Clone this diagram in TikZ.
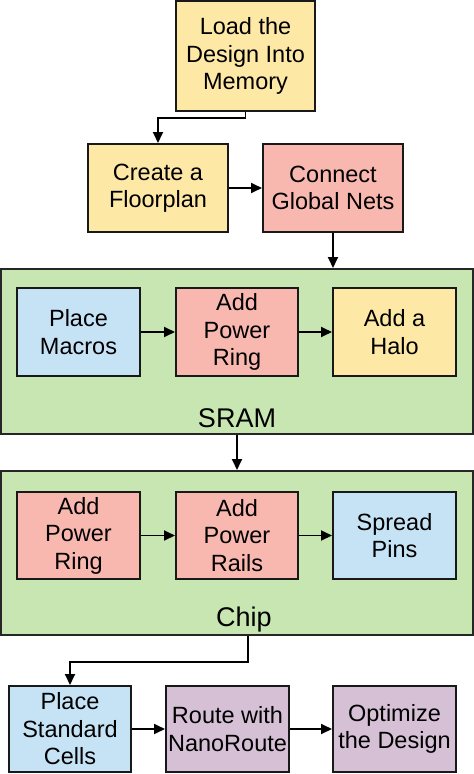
\documentclass[tikz,border=0pt]{standalone}
\usepackage{fontspec}
\setmainfont{Liberation Sans}
\usetikzlibrary{arrows.meta}
\definecolor{cyel}{HTML}{FDE8A6}
\definecolor{cred}{HTML}{F9B8AF}
\definecolor{cblue}{HTML}{C6E3F6}
\definecolor{cgreen}{HTML}{C8E6B1}
\definecolor{cpurp}{HTML}{D6C0D6}
\begin{document}
\begin{tikzpicture}[x=1pt,y=-1pt,
  box/.style={draw=black!90, line width=2pt, align=center, inner sep=0pt,
    font=\fontsize{23.5}{27.5}\selectfont},
  group/.style={draw=black!85, line width=2pt, fill=cgreen, inner sep=0pt},
  glabel/.style={font=\fontsize{27}{32}\selectfont, anchor=base, inner sep=0pt},
  arr/.style={-{Triangle[length=11pt,width=10pt]}, line width=1.8pt}]
\useasboundingbox (0,0) rectangle (474,774);

% top boxes
\node[box, fill=cyel, minimum width=139pt, minimum height=110pt] (load) at (245.5,56) {Load the\\Design Into\\Memory};
\node[box, fill=cyel, minimum width=140pt, minimum height=88pt] (create) at (158,188) {Create a\\Floorplan};
\node[box, fill=cred, minimum width=140pt, minimum height=88pt] (connect) at (333,188) {Connect\\Global Nets};

% SRAM group
\node[group, minimum width=472pt, minimum height=165pt] (sram) at (237,351.5) {};
\node[box, fill=cblue, minimum width=123pt, minimum height=88pt] (pm) at (78.5,332) {Place\\Macros};
\node[box, fill=cred, minimum width=122pt, minimum height=88pt] (apr1) at (237,332) {Add\\Power\\Ring};
\node[box, fill=cyel, minimum width=123pt, minimum height=88pt] (halo) at (394.5,332) {Add a\\Halo};
\node[glabel] (sramlbl) at (237,427) {SRAM};

% Chip group
\node[group, minimum width=472pt, minimum height=164pt] (chip) at (237,553) {};
\node[box, fill=cred, minimum width=123pt, minimum height=87pt] (apr2) at (78.5,535.5) {Add\\Power\\Ring};
\node[box, fill=cred, minimum width=122pt, minimum height=87pt] (rails) at (237,535.5) {Add\\Power\\Rails};
\node[box, fill=cblue, minimum width=123pt, minimum height=87pt] (pins) at (394.5,535.5) {Spread\\Pins};
\node[glabel] (chiplbl) at (244,626) {Chip};

% bottom boxes
\node[box, fill=cblue, minimum width=122pt, minimum height=86pt] (psc) at (70,729) {Place\\Standard\\Cells};
\node[box, fill=cpurp, minimum width=123pt, minimum height=86pt] (route) at (227.5,729) {Route with\\NanoRoute};
\node[box, fill=cpurp, minimum width=123pt, minimum height=86pt] (opt) at (394.5,729) {Optimize\\the Design};

% connectors
\draw[arr] (load.south) -- ++(0,6) -| (create.north);
\draw[arr] (create.east) -- (connect.west);
\draw[arr] (connect.south) -- (connect.south |- sram.north);
\draw[arr] (pm.east) -- (apr1.west);
\draw[arr] (apr1.east) -- (halo.west);
\draw[arr] (sram.south) -- (chip.north);
\draw[arr] (apr2.east) -- (rails.west);
\draw[arr] (rails.east) -- (pins.west);
\draw[arr] ([xshift=11pt]chip.south) -- ++(0,26) -| (psc.north);
\draw[arr] (psc.east) -- (route.west);
\draw[arr] (route.east) -- (opt.west);
\end{tikzpicture}
\end{document}
